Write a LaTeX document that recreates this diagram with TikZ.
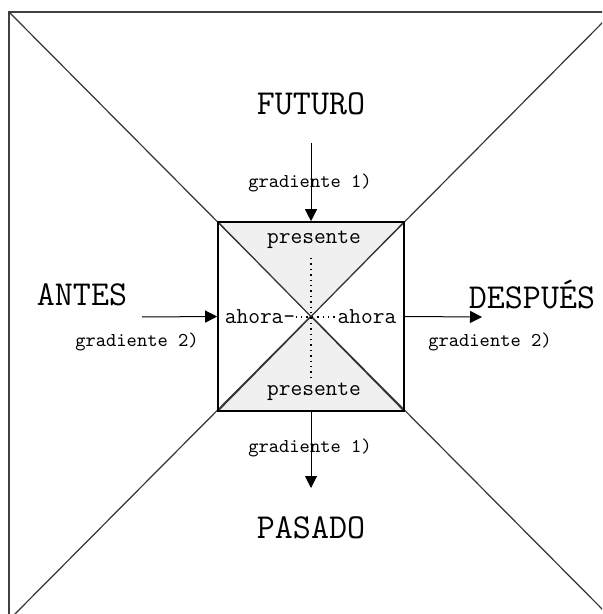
\documentclass[tikz,border=0pt]{standalone}
\usetikzlibrary{arrows.meta}

\definecolor{tri}{gray}{0.94}
\tikzset{
  big/.style={font=\ttfamily\fontsize{17.5}{18}\selectfont, inner sep=0pt},
  mid/.style={font=\ttfamily\fontsize{11.4}{12}\selectfont, inner sep=0pt},
  small/.style={font=\ttfamily\fontsize{9.8}{10}\selectfont, inner sep=0pt},
  arr/.style={line width=0.5pt, -{Triangle[width=6pt,length=6pt]}}
}

\begin{document}
\begin{tikzpicture}[x=0.5pt,y=-0.5pt]
		\useasboundingbox (0,0) rectangle (602,614);
		\clip (0,0) rectangle (602,614);
		% outer frame and diagonals
		\draw[line width=1pt,black!75] (9,620) -- (9,12) -- (613,12);
		\draw[line width=0.6pt,black!80] (9,12) -- (613,620);
		\draw[line width=0.6pt,black!80] (613,12) -- (9,620);
		% inner square
		\fill[tri] (218,222) -- (404,222) -- (311,316.5) -- cycle;
		\fill[tri] (218,411) -- (404,411) -- (311,316.5) -- cycle;
		\draw[line width=0.6pt,black!80] (218,222) -- (404,411);
		\draw[line width=0.6pt,black!80] (404,222) -- (218,411);
		\node[draw, line width=0.8pt, minimum width=93pt, minimum height=94.5pt] (box) at (311,316.5) {};
		% labels inside
		\node[mid] (pres1) at (314,240) {presente};
		\node[mid] (pres2) at (314,392) {presente};
		\node[mid] (ahoraL) at (260,317) {ahora-};
		\node[mid] (ahoraR) at (367,317) {ahora};
		\draw[dotted, line width=0.7pt] (311,258) -- (311,377);
		\draw[dotted, line width=0.7pt] (ahoraL.east) -- (ahoraR.west);
		% outside labels
		\node[big] (futuro) at (311,104) {FUTURO};
		\node[big] (pasado) at (311,528) {PASADO};
		\node[big] (antes) at (82,295) {ANTES};
		\node[big] (despues) at (532,295) {DESPUÉS};
		\node[small] (grad1a) at (310,183) {gradiente 1)};
		\node[small] (grad1b) at (310,448) {gradiente 1)};
		\node[small] (grad2a) at (137,342) {gradiente 2)};
		\node[small] (grad2b) at (490,342) {gradiente 2)};
		% arrows
		\coordinate (futtop) at (311,143);
		\coordinate (pasend) at (311,488);
		\coordinate (antstart) at (142,317);
		\coordinate (despend) at (482,317);
		\draw[arr] (futtop) -- (box.north);
		\draw[arr] (box.south) -- (pasend);
		\draw[arr] (antstart) -- (box.west);
		\draw[arr] (box.east) -- (despend);
\end{tikzpicture}
\end{document}
